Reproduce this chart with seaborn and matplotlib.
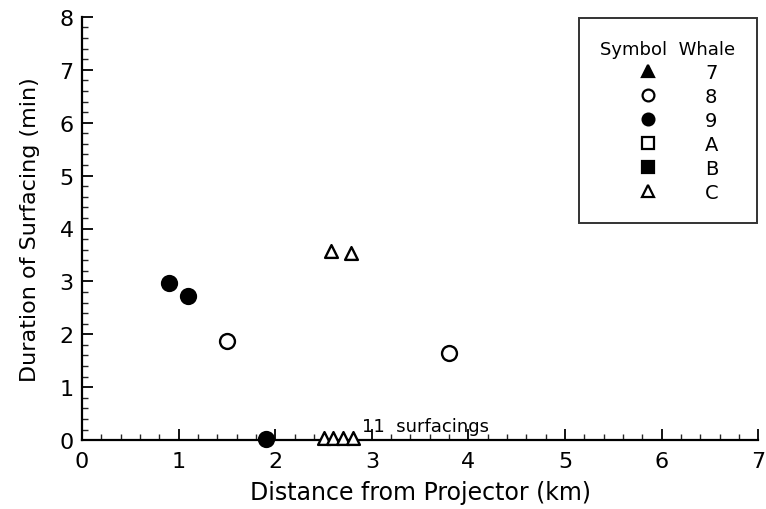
import numpy as np
import pandas as pd
import matplotlib
matplotlib.use('Agg')
import matplotlib.pyplot as plt
import seaborn as sns
from matplotlib.lines import Line2D
from matplotlib.ticker import MultipleLocator

whale = ['9', '9', '9', '8', '8', 'C', 'C', 'C', 'C', 'C', 'C']
distance_km = [0.9, 1.1, 1.9, 1.5, 3.8, 2.58, 2.78, 2.5, 2.6, 2.7, 2.8]
duration_min = [2.97, 2.72, 0.03, 1.88, 1.64, 3.58, 3.53, 0.05, 0.05, 0.05, 0.05]

legend_whales = ['7', '8', '9', 'A', 'B', 'C']
legend_markers = ['^', 'o', 'o', 's', 's', '^']
legend_filled = [True, False, True, False, True, False]

df = pd.DataFrame({'whale': whale, 'distance': distance_km, 'duration': duration_min})

sns.set_theme(style='ticks')
plt.rcParams['font.family'] = ['DejaVu Sans']
plt.rcParams['text.color'] = 'black'
plt.rcParams['axes.labelcolor'] = 'black'

fig = plt.figure(figsize=(7.66, 5.10), dpi=100)
ax = fig.add_axes([0.107, 0.135, 0.883, 0.83])

style = dict(zip(legend_whales, zip(legend_markers, legend_filled)))
for w, grp in df.groupby('whale'):
    mk, filled = style[w]
    sns.scatterplot(
        data=grp, x='distance', y='duration', ax=ax,
        marker=mk, s=115 if mk == 'o' else 85,
        color='black' if filled else 'white',
        edgecolor='black', linewidth=1.7, zorder=3, clip_on=False,
    )

ax.text(2.9, 0.27, '11  surfacings', fontsize=13, ha='left', va='center')

ax.set_xlim(0, 7)
ax.set_ylim(0, 8)
ax.xaxis.set_major_locator(MultipleLocator(1))
ax.xaxis.set_minor_locator(MultipleLocator(0.2))
ax.yaxis.set_major_locator(MultipleLocator(1))
ax.yaxis.set_minor_locator(MultipleLocator(0.2))
ax.tick_params(which='major', direction='in', length=8, width=1.3, labelsize=16, colors='black')
ax.tick_params(which='minor', direction='in', length=4.5, width=1.0)
ax.tick_params(axis='x', which='major', pad=8)
ax.tick_params(axis='y', which='major', pad=6)
for sp in ['left', 'bottom']:
    ax.spines[sp].set_linewidth(1.6)
    ax.spines[sp].set_color('black')
sns.despine(ax=ax)

ax.set_xlabel('Distance from Projector (km)', fontsize=17, labelpad=6)
ax.set_ylabel('Duration of Surfacing (min)', fontsize=16, labelpad=14)

handles = [
    Line2D([], [], linestyle='none', marker=m, markersize=8.5,
           markerfacecolor='black' if f else 'white',
           markeredgecolor='black', markeredgewidth=1.6)
    for m, f in zip(legend_markers, legend_filled)
]
leg = ax.legend(
    handles, legend_whales, title='Symbol  Whale', loc='upper right',
    bbox_to_anchor=(0.998, 0.997), borderaxespad=0, frameon=True, fancybox=False,
    edgecolor='black', fontsize=14, title_fontsize=13,
    handletextpad=1.4, labelspacing=0.26, borderpad=1.1,
    handlelength=3.1,
)
leg.get_frame().set_linewidth(1.4)

fig.savefig('out.png', dpi=100)
plt.close(fig)
